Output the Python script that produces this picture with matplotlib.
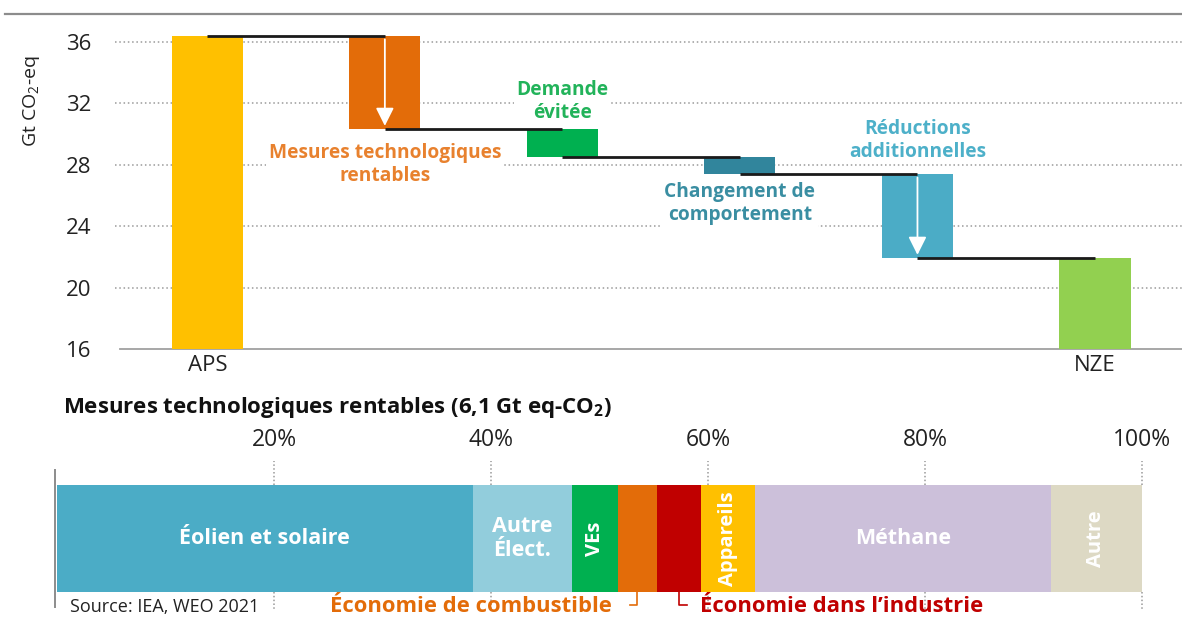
import matplotlib
matplotlib.use("Agg")
import matplotlib.pyplot as plt
from matplotlib.lines import Line2D

plt.rcParams['font.family'] = ['Open Sans', 'DejaVu Sans']
plt.rcParams['mathtext.fontset'] = 'custom'
plt.rcParams['mathtext.rm'] = 'Open Sans'
plt.rcParams['mathtext.bf'] = 'Open Sans:bold'

# ---------------- data ----------------
categories = ["APS", "Mesures technologiques\nrentables", "Demande\névitée",
              "Changement de\ncomportement", "Réductions\nadditionnelles", "NZE"]
aps_total = 36.4
step_reductions = [6.1, 1.8, 1.1, 5.5]
y_ticks = [16, 20, 24, 28, 32, 36]

share_labels = ["Éolien et solaire", "Autre\nÉlect.", "VEs", "", "", "Appareils", "Méthane", "Autre"]
share_values = [38.3, 9.2, 4.2, 3.6, 4.1, 4.9, 27.3, 8.4]
pct_ticks = [20, 40, 60, 80, 100]

# ---------------- styles ----------------
bar_colors = ["#FFC000", "#E36C09", "#00B050", "#31859C", "#4BACC6", "#92D050"]
label_colors = [None, "#E8812E", "#22B35A", "#3A8EA2", "#4DB0C9", None]
label_pos_y = [None, 28.0, 32.1, 25.5, 29.6, None]
share_colors = ["#4BACC6", "#92CDDC", "#00B050", "#E36C09", "#C00000", "#FFC000", "#CCC0DA", "#DDD9C4"]
share_rot = [0, 0, 90, 0, 0, 90, 0, 90]

W, H = 1182, 620
fig = plt.figure(figsize=(W / 100, H / 100), dpi=100)

# decorative top line
fig.add_artist(Line2D([5 / W, 1.0], [1 - 14 / H, 1 - 14 / H], color="#8C8C8C", lw=1.6))

# ---------------- top waterfall ----------------
ax = fig.add_axes([115 / W, 1 - 349 / H, 1 - 115 / W, (349 - 26.6) / H])
ax.set_xlim(-0.52, 5.49)
ax.set_ylim(16, 37)

levels = [aps_total]
for r in step_reductions:
    levels.append(levels[-1] - r)
nze = levels[-1]

bw = 0.40
ax.bar(0, aps_total - 16, bottom=16, width=bw, color=bar_colors[0], zorder=3)
ax.bar(5, nze - 16, bottom=16, width=bw, color=bar_colors[5], zorder=3)
for i, r in enumerate(step_reductions, start=1):
    ax.bar(i, r, bottom=levels[i], width=bw, color=bar_colors[i], zorder=3)

for i in range(5):
    ax.plot([i, i + 1], [levels[i], levels[i]], color="#1a1a1a", lw=2, zorder=4,
            solid_capstyle="butt")

for i in (1, 4):
    ax.annotate("", xy=(i, levels[i] + 0.05), xytext=(i, levels[i - 1] - 0.05),
                arrowprops=dict(arrowstyle="-|>,head_width=0.55,head_length=1.1",
                                color="white", lw=1.3),
                zorder=5)

for i in range(1, 5):
    ax.text(i, label_pos_y[i], categories[i], ha="center", va="center",
            color=label_colors[i], fontsize=13.8, fontweight="bold", linespacing=1.2,
            zorder=6, bbox=dict(facecolor="white", edgecolor="none", pad=1.5))

ax.set_yticks(y_ticks)
ax.set_yticklabels([str(v) for v in y_ticks], fontsize=16, color="#222222")
ax.tick_params(axis="y", length=0, pad=17)
ax.set_xticks([0, 5])
ax.set_xticklabels([categories[0], categories[5]], fontsize=16, color="#222222")
ax.tick_params(axis="x", length=0, pad=4)
for y in y_ticks[1:]:
    ax.axhline(y, color="#9a9a9a", lw=1.1, ls=(0, (1, 1.8)), zorder=1)
for s in ["top", "right", "left"]:
    ax.spines[s].set_visible(False)
ax.spines["bottom"].set_color("#a0a0a0")
ax.spines["bottom"].set_linewidth(1.3)
ax.spines["bottom"].set_bounds(-0.49, 5.49)
ax.set_ylabel("Gt CO$_2$-eq", fontsize=14, color="#222222")
ax.yaxis.set_label_coords(-0.068, 0.77)

# ---------------- bottom stacked share bar ----------------
bx = fig.add_axes([57 / W, 1 - 592 / H, 1085 / W, 107 / H])
bx.set_xlim(0, 100)
bx.set_ylim(0, 1)
bx.axis("off")

left = 0
for lab, val, col, rot in zip(share_labels, share_values, share_colors, share_rot):
    bx.barh(0.5, val, left=left, height=1.0, color=col, zorder=2)
    if lab:
        bx.text(left + val / 2, 0.5, lab, ha="center", va="center", color="white",
                fontsize=15.5 if rot == 0 else 14.5, fontweight="bold", rotation=rot,
                linespacing=1.2, zorder=3)
    left += val

for p in pct_ticks:
    bx.plot([p, p], [1.0, 1.22], color="#9a9a9a", lw=1.1, ls=(0, (1, 1.5)), clip_on=False, zorder=1)
    bx.plot([p, p], [0.0, -0.17], color="#9a9a9a", lw=1.1, ls=(0, (1, 1.5)), clip_on=False, zorder=1)
    bx.text(p, 1.42, f"{p}%", ha="center", va="center", fontsize=16.5, color="#222222")

bx.plot([-0.2, -0.2], [-0.14, 1.14], color="#8C8C8C", lw=1.4, clip_on=False)

c_fuel = sum(share_values[:3]) + share_values[3] / 2
c_ind = sum(share_values[:4]) + share_values[4] / 2
bx.plot([c_fuel, c_fuel, c_fuel - 0.65], [0, -0.12, -0.12], color="#E36C09", lw=1.2, clip_on=False)
bx.plot([c_ind, c_ind, c_ind + 0.75], [0, -0.12, -0.12], color="#C00000", lw=1.2, clip_on=False)

fig.text(63 / W, 1 - 408 / H, "Mesures technologiques rentables (6,1 Gt eq-CO$_\\mathbf{2}$)",
         fontsize=16, fontweight="bold", color="#111111", va="center", ha="left")
fig.text(70 / W, 1 - 607 / H, "Source: IEA, WEO 2021", fontsize=13, color="#222222",
         va="center", ha="left")
fig.text(612 / W, 1 - 607 / H, "Économie de combustible", fontsize=15.8, fontweight="bold",
         color="#E36C09", va="center", ha="right")
fig.text(700 / W, 1 - 607 / H, "Économie dans l’industrie", fontsize=15.8, fontweight="bold",
         color="#C00000", va="center", ha="left")

fig.savefig("out.png", dpi=100)
